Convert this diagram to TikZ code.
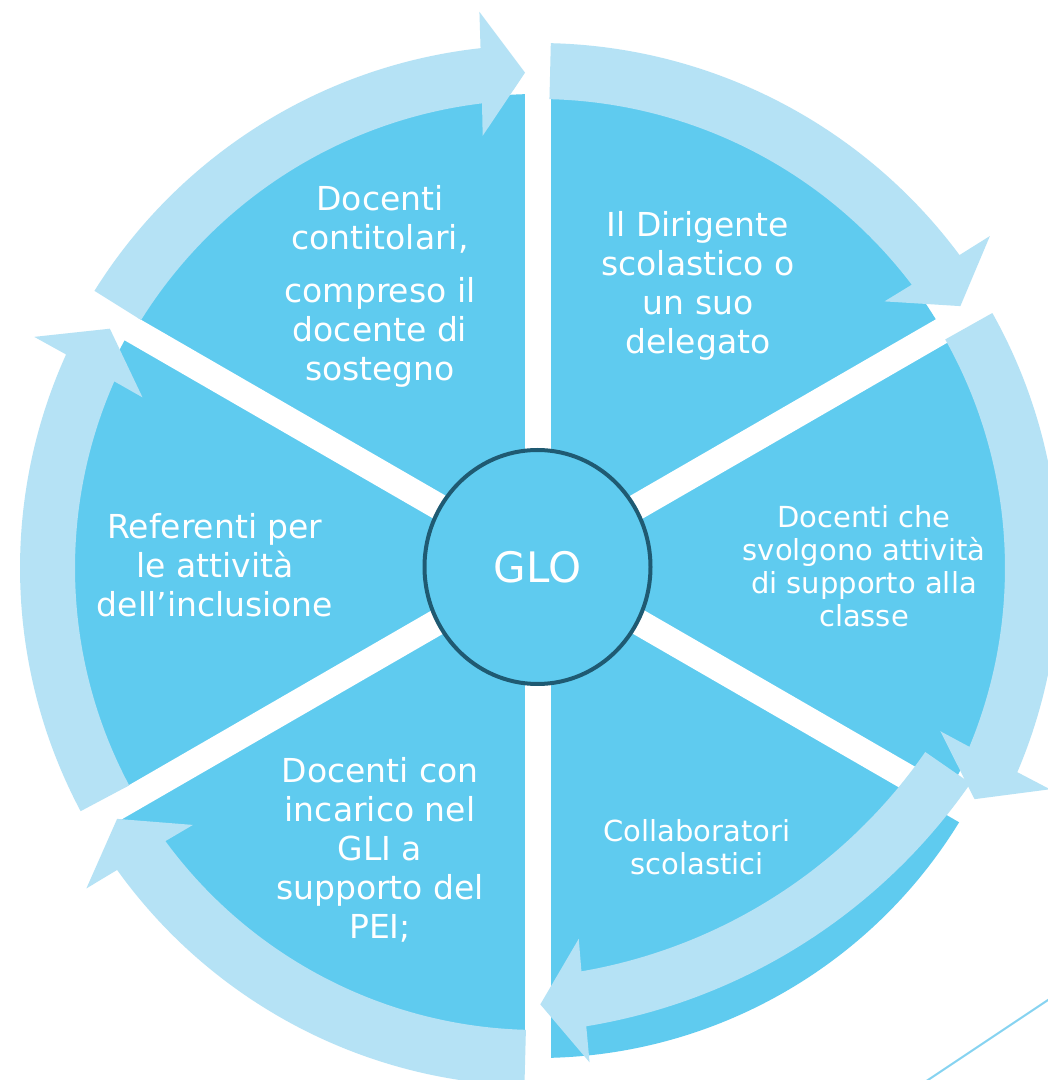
\documentclass[tikz,border=0pt]{standalone}
\usepackage{fontspec}
\setmainfont{DejaVu Sans}
\usetikzlibrary{calc,shapes.geometric}
\definecolor{wedgeblue}{HTML}{5FCBEF}
\definecolor{bandblue}{HTML}{B5E2F5}
\definecolor{ringteal}{HTML}{1F5A72}
\definecolor{ruleblue}{HTML}{86D3F1}

% curved block arrow running clockwise around a centre;
% the head is a triangle whose base is parallel to the radius through the tip
% #1 centre, #2 tail angle, #3 tip angle, #4 inner radius, #5 outer radius,
% #6 half width of the head
\newcommand\cyclearrow[6]{%
  \pgfmathsetmacro\armid{(#4+#5)/2}%
  \pgfmathsetmacro\arendout{#3+atan(44/#5)}%
  \pgfmathsetmacro\arendin{#3+atan(44/#4)}%
  \fill[bandblue]
    ($(#1)+(#2:#5)$) arc[start angle=#2, end angle=\arendout, radius=#5]
    -- ($(#1)+(#3:\armid)+(#3+90:44)+(#3:#6)$)
    -- ($(#1)+(#3:\armid)$)
    -- ($(#1)+(#3:\armid)+(#3+90:44)+(#3+180:#6)$)
    -- ($(#1)+(\arendin:#4)$) arc[start angle=\arendin, end angle=#2, radius=#4]
    -- cycle;}

\begin{document}
\begin{tikzpicture}[x=1pt,y=1pt,
  label big/.style={text=white, align=center, inner sep=0pt,
    font=\fontsize{33}{39}\selectfont},
  label small/.style={text=white, align=center, inner sep=0pt,
    font=\fontsize{29}{33}\selectfont}]

\useasboundingbox (0,0) rectangle (1048,1080);
\fill[white] (0,0) rectangle (1048,1080);

% centres
\coordinate (P) at (538,516);   % pie
\coordinate (C) at (538,512);   % outer ring of arrows
\coordinate (D) at (492,628);   % displaced lower right arrow

% pie wedges
\foreach \a/\r in {90/467, 30/470, -30/494, -90/494, 150/470, 210/470}
  \fill[wedgeblue] (P) -- ++(\a:\r) arc[start angle=\a, end angle=\a-60, radius=\r] -- cycle;

% white separating gaps
\foreach \a in {90, 30, 150}
  \draw[white, line width=26pt] (P) ++(\a:560) -- ++(\a+180:1120);

% centre disc
\node[ellipse, draw=ringteal, fill=wedgeblue, line width=4pt,
  minimum width=226pt, minimum height=234pt, inner sep=0pt,
  text=white, font=\fontsize{42}{42}\selectfont] (glo) at (537.5,513) {GLO};

% ring of arrows
\cyclearrow{C}{148}{91.5}{468}{523}{62}
\cyclearrow{C}{88.6}{31.8}{469}{525}{62}
\cyclearrow{C}{29.3}{-27.9}{467}{521}{62}
\cyclearrow{D}{-34.7}{-85}{527}{582}{62}
\cyclearrow{C}{268.5}{210.8}{462}{518}{62}
\cyclearrow{C}{208}{150.8}{463}{518}{62}

% texts
\node[label big] (tl) at (380,794) {Docenti\\contitolari,\\[14pt]compreso il\\docente di\\sostegno};
\node[label big] (tr) at (698,794) {Il Dirigente\\scolastico o\\un suo\\delegato};
\node[label small] (rt) at (864,514) {Docenti che\\svolgono attività\\di supporto alla\\classe};
\node[label big] (lf) at (215,514.5) {Referenti per\\le attività\\dell’inclusione};
\node[label big] (bl) at (380,230.5) {Docenti con\\incarico nel\\GLI a\\supporto del\\PEI;};
\node[label small] (br) at (697,233) {Collaboratori\\scolastici};

% thin rule in the lower right corner
\coordinate (ra) at (925,-2);
\coordinate (rb) at (1051,82);
\draw[ruleblue, line width=2pt] (ra) -- (rb);
\end{tikzpicture}
\end{document}
